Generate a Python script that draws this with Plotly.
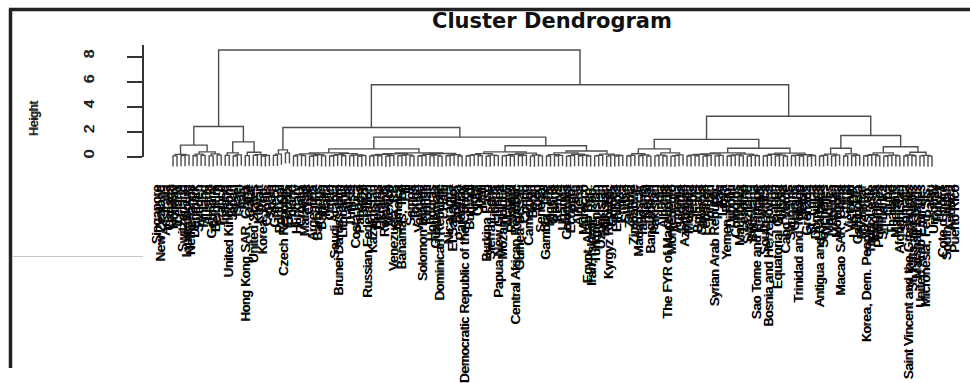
import re
import plotly.graph_objects as go

# ---------------- data ----------------
countries = [
    "Singapore", "New Zealand", "Australia", "Canada", "Norway", "Iceland", "Switzerland", "Luxembourg", "Netherlands", "Denmark",
    "Sweden", "Finland", "Austria", "Germany", "Belgium", "France", "Ireland", "United Kingdom", "Japan", "Israel",
    "Italy", "Hong Kong SAR, China", "Qatar", "United States", "Kuwait", "Korea, Rep.", "Cyprus", "Spain", "Greece", "Portugal",
    "Czech Republic", "Estonia", "Poland", "Hungary", "Croatia", "Malaysia", "Chile", "Argentina", "Barbados", "Bahrain",
    "Malta", "Oman", "Saudi Arabia", "Brunei Darussalam", "Lithuania", "Latvia", "Tunisia", "Costa Rica", "Panama", "Brazil",
    "Russian Federation", "Kazakhstan", "Belarus", "Ukraine", "Romania", "Mexico", "Venezuela, RB", "Jamaica", "Bahamas, The", "Fiji",
    "Samoa", "Tonga", "Vanuatu", "Solomon Islands", "Kiribati", "Honduras", "Guatemala", "Dominican Republic", "Haiti", "Nicaragua",
    "El Salvador", "Bolivia", "Paraguay", "Democratic Republic of the Congo", "Burundi", "Niger", "Chad", "Mali", "Burkina Faso", "Sierra Leone",
    "Liberia", "Papua New Guinea", "Mozambique", "Malawi", "Rwanda", "Central African Republic", "Guinea-Bissau", "Congo", "Cameroon", "Benin",
    "Togo", "Senegal", "Gambia, The", "Nigeria", "Ghana", "Kenya", "Uganda", "Colombia", "Ecuador", "Peru",
    "Algeria", "Morocco", "Egypt, Arab Rep.", "Iran, Islamic Rep.", "Turkmenistan", "Uzbekistan", "Tajikistan", "Kyrgyz Republic", "Guinea", "Ethiopia",
    "Eritrea", "Sudan", "Zambia", "Zimbabwe", "Madagascar", "Tanzania", "Nepal", "Bangladesh", "Pakistan", "India",
    "Albania", "The FYR of Macedonia", "Montenegro", "Armenia", "Georgia", "Azerbaijan", "Moldova", "Serbia", "Bulgaria", "Slovenia",
    "Lebanon", "Jordan", "Syrian Arab Republic", "Iraq", "Libya", "Yemen, Rep.", "Djibouti", "Comoros", "Mauritania", "Lesotho",
    "Swaziland", "Botswana", "Sao Tome and Principe", "Namibia", "South Africa", "Bosnia and Herzegovina", "Gabon", "Equatorial Guinea", "Angola", "Cabo Verde",
    "Suriname", "Guyana", "Trinidad and Tobago", "Belize", "Grenada", "St. Lucia", "Dominica", "Antigua and Barbuda", "Seychelles", "Maldives",
    "Bhutan", "Mongolia", "Macao SAR, China", "China", "Vietnam", "Lao PDR", "Cambodia", "Myanmar", "Korea, Dem. People's Rep.", "Timor-Leste",
    "Indonesia", "Philippines", "Sri Lanka", "Cuba", "Thailand", "Mauritius", "Afghanistan", "Somalia", "Saint Vincent and the Grenadines", "St. Kitts and Nevis",
    "Marshall Islands", "United Arab Emirates", "Micronesia, Fed. Sts.", "Palau", "Uruguay", "Turkey", "Cote d'Ivoire", "South Sudan", "Andorra", "Puerto Rico",
]

# low-level clusters: "(left,right)height", leaves are indices into countries (in plotted order)
A1L = "((0,1)0.06,((2,3)0.08,4)0.12)0.18"
A1R = "(((5,6)0.07,(7,8)0.1)0.2,((9,10)0.06,(11,12)0.12)0.22)0.38"
A2L = "((13,14)0.1,((15,16)0.05,17)0.14)0.3"
A2R = "((18,19)0.08,((20,21)0.1,((22,23)0.05,24)0.09)0.16)0.35"
B1A = "(((25,26)0.1,27)0.2,(28,29)0.3)0.54"
LL1 = "(((30,31)0.05,(32,33)0.08)0.14,(((34,35)0.04,36)0.09,(37,38)0.06)0.15)0.22"
LL2 = "((((39,40)0.05,41)0.1,(42,43)0.07)0.16,((44,45)0.06,((46,47)0.04,48)0.09)0.13)0.24"
LR1 = "((((49,50)0.05,(51,52)0.07)0.11,((53,54)0.04,55)0.09)0.18,(((56,57)0.06,58)0.1,(59,60)0.05)0.14)0.23"
LR2 = "((((61,62)0.05,63)0.09,((64,65)0.06,(66,67)0.04)0.12)0.19,(((68,69)0.07,70)0.11,(71,72)0.05)0.15)0.25"
RL1 = "((((73,74)0.05,75)0.1,(76,77)0.07)0.16,((78,79)0.04,(80,81)0.08)0.12)0.24"
RL2 = "((((82,83)0.06,(84,85)0.05)0.1,((86,87)0.07,88)0.11)0.18,((89,90)0.04,(91,92)0.06)0.13)0.28"
RR1 = "(((93,94)0.05,((95,96)0.06,97)0.1)0.16,(((98,99)0.04,100)0.08,((101,102)0.07,(103,104)0.05)0.11)0.19)0.3"
RR2 = "(((105,106)0.06,107)0.1,((108,109)0.04,((110,111)0.05,112)0.09)0.12)0.2"
T1 = "(((113,114)0.05,115)0.1,((116,117)0.07,(118,119)0.04)0.13)0.23"
T2 = "(((120,121)0.06,(122,123)0.05)0.12,(((124,125)0.04,126)0.08,127)0.14)0.3"
U1A = "((((128,129)0.05,(130,131)0.07)0.12,((132,133)0.04,134)0.09)0.18,((135,136)0.06,137)0.1)0.22"
U1B = "((((138,139)0.05,140)0.09,(141,142)0.06)0.14,((143,144)0.04,(145,146)0.07)0.11)0.2"
U2 = "((((147,148)0.05,149)0.1,((150,151)0.06,(152,153)0.04)0.12)0.19,(((154,155)0.07,(156,157)0.05)0.11,((158,159)0.04,160)0.09)0.15)0.28"
V1 = "(((161,162)0.05,163)0.1,((164,165)0.06,166)0.12)0.2"
V2 = "((167,168)0.05,((169,170)0.07,171)0.11)0.22"
W1 = "((((172,173)0.05,174)0.1,(175,176)0.06)0.15,(((177,178)0.04,179)0.08,(180,181)0.06)0.12)0.3"
W2 = "(((182,183)0.05,(184,185)0.07)0.13,((186,187)0.06,(188,189)0.04)0.1)0.35"

# heights of the upper merges
h_root, h_A, h_A1, h_A2 = 8.54, 2.41, 0.92, 1.18
h_B, h_B1, h_B1b, h_B1bL, h_B1bR = 5.75, 2.33, 1.56, 0.62, 0.87
h_LL, h_LR, h_RL, h_RR = 0.3, 0.3, 0.38, 0.45
h_B2, h_B2a, h_B2aL, h_B2aR, h_U1 = 3.23, 1.38, 0.62, 0.67, 0.3
h_B2b, h_B2bL, h_B2bR = 1.69, 0.67, 0.79

y_ticks = [0, 2, 4, 6, 8]


def join(a, b, h):
    return f"({a},{b}){h}"


A = join(join(A1L, A1R, h_A1), join(A2L, A2R, h_A2), h_A)
B1 = join(B1A, join(join(join(LL1, LL2, h_LL), join(LR1, LR2, h_LR), h_B1bL),
                    join(join(RL1, RL2, h_RL), join(RR1, RR2, h_RR), h_B1bR), h_B1b), h_B1)
B2 = join(join(join(T1, T2, h_B2aL), join(join(U1A, U1B, h_U1), U2, h_B2aR), h_B2a),
          join(join(V1, V2, h_B2bL), join(W1, W2, h_B2bR), h_B2b), h_B2)
TREE = join(A, join(B1, B2, h_B), h_root)


def parse(s):
    tokens = re.findall(r"\(|\)|,|[0-9.]+", s)
    pos = [0]

    def node():
        t = tokens[pos[0]]
        pos[0] += 1
        if t == "(":
            left = node()
            pos[0] += 1  # ','
            right = node()
            pos[0] += 1  # ')'
            h = float(tokens[pos[0]])
            pos[0] += 1
            return ("n", left, right, h)
        return ("l", int(t))

    return node()


root = parse(TREE)


def heights(n):
    if n[0] == "l":
        return []
    return [n[3]] + heights(n[1]) + heights(n[2])


hs = heights(root)
hang = 0.1 * (max(hs) - min(hs))

xs, ys = [], []


def place(n):
    if n[0] == "l":
        return float(n[1]), None
    xl, hl = place(n[1])
    xr, hr = place(n[2])
    h = n[3]
    yl = h - hang if hl is None else hl
    yr = h - hang if hr is None else hr
    xs.extend([xl, xl, xr, xr, None])
    ys.extend([yl, h, h, yr, None])
    return (xl + xr) / 2.0, h


place(root)

# ---------------- geometry (pixels of the 970x383 canvas) ----------------
W, H = 970, 383
n = len(countries)
leaf0_px, leafN_px = 173.0, 932.0
lab0_px, labN_px = 157.0, 955.0
y0_px, ppu = 163.0, 13.0  # height 0 at y=163, 13 px per unit

sx = (leafN_px - leaf0_px) / (n - 1)
x_lo = -leaf0_px / sx
x_hi = x_lo + W / sx
sl = (labN_px - lab0_px) / (n - 1)
x2_lo = -lab0_px / sl
x2_hi = x2_lo + W / sl
y_hi = y0_px / ppu
y_lo = (y0_px - H) / ppu
axis_top_px = 47.0

fig = go.Figure()
fig.add_trace(go.Scatter(x=xs, y=ys, mode="lines",
                         line=dict(color="#4d4d4d", width=1.4),
                         hoverinfo="skip", showlegend=False))
# helper traces so the height axis and label axis are drawn
fig.add_trace(go.Scatter(x=[0], y=[0], xaxis="x", yaxis="y2", mode="markers",
                         marker=dict(opacity=0), hoverinfo="skip", showlegend=False))
fig.add_trace(go.Scatter(x=[0], y=[y_lo], xaxis="x2", yaxis="y", mode="markers",
                         marker=dict(opacity=0), hoverinfo="skip", showlegend=False))

fig.update_layout(
    width=W, height=H, autosize=False,
    margin=dict(l=0, r=0, t=0, b=0),
    paper_bgcolor="white", plot_bgcolor="rgba(0,0,0,0)",
    showlegend=False, hovermode=False,
    xaxis=dict(range=[x_lo, x_hi], visible=False, fixedrange=True),
    yaxis=dict(range=[y_lo, y_hi], visible=False, fixedrange=True),
    yaxis2=dict(
        domain=[1 - y0_px / H, 1 - axis_top_px / H],
        range=[0, (y0_px - axis_top_px) / ppu],
        anchor="free", position=143.0 / W, side="left",
        showline=True, linecolor="#333333", linewidth=1.5,
        ticks="outside", ticklen=15, tickwidth=1.5, tickcolor="#333333",
        tickmode="array", tickvals=y_ticks, ticktext=[str(v) for v in y_ticks],
        tickangle=-90, ticklabelstandoff=27,
        tickfont=dict(family="Liberation Sans", size=15, color="#222222",
                      shadow="1px 0px 0px #222222"),
        showgrid=False, zeroline=False, fixedrange=True,
    ),
    xaxis2=dict(
        overlaying="x", anchor="free", position=1 - 189.0 / H, side="bottom",
        range=[x2_lo, x2_hi],
        tickmode="array", tickvals=list(range(n)), ticktext=countries,
        tickangle=-90, ticks="", showline=False, showgrid=False, zeroline=False,
        tickfont=dict(family="Liberation Sans", size=13, color="#000000",
                      shadow="1px 0px 0px #000000"),
        fixedrange=True,
    ),
    annotations=[
        dict(text="<b>Cluster Dendrogram</b>", xref="paper", yref="paper",
             x=552.0 / W, y=1 - 22.0 / H, xanchor="center", yanchor="middle",
             showarrow=False, font=dict(family="DejaVu Sans", size=21, color="#111111")),
        dict(text="Height", xref="paper", yref="paper", textangle=-90,
             x=34.0 / W, y=1 - 124.0 / H, xanchor="center", yanchor="middle",
             showarrow=False, font=dict(family="Liberation Sans", size=12, color="#222222",
                                        shadow="1px 0px 0px #222222")),
    ],
    shapes=[
        dict(type="line", xref="paper", yref="paper", x0=9.0 / W, x1=1.0,
             y0=1 - 10.0 / H, y1=1 - 10.0 / H, line=dict(color="#222222", width=3.5)),
        dict(type="line", xref="paper", yref="paper", x0=10.5 / W, x1=10.5 / W,
             y0=1 - 9.0 / H, y1=0, line=dict(color="#222222", width=3.5)),
        dict(type="line", xref="paper", yref="paper", x0=12.0 / W, x1=143.0 / W,
             y0=1 - 267.0 / H, y1=1 - 267.0 / H, line=dict(color="#c8c8c8", width=1)),
    ],
)

fig.write_html("out.html", config={"displayModeBar": False},
               post_script="document.body.style.margin='0';document.body.style.overflow='hidden';")
